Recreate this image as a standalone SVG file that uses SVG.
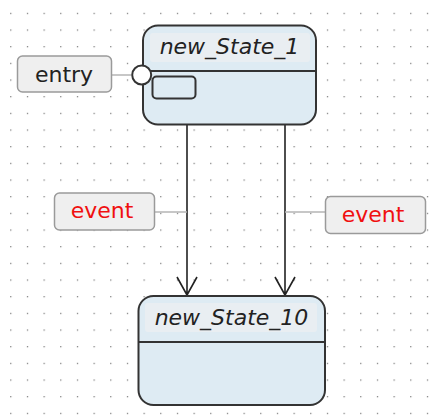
<svg xmlns="http://www.w3.org/2000/svg" width="441" height="420" viewBox="0 0 441 420">
<style>
.state{fill:#deebf3;stroke:#333;stroke-width:2}
.title{fill:#e9eef2}
.tt{font-family:"DejaVu Sans",sans-serif;font-style:italic;font-size:22px;fill:#222}
.lbl{fill:#efefef;stroke:#9a9a9a;stroke-width:1.5}
.lt{font-family:"DejaVu Sans",sans-serif;font-size:22px}
.conn{stroke:#222;stroke-width:1.6;fill:none}
.lead{stroke:#b5b5b5;stroke-width:1.5;fill:none}
</style>
<defs>
<pattern id="grid" patternUnits="userSpaceOnUse" x="10.2" y="12.8" width="16.6667" height="16.6667">
<rect x="0" y="0" width="1.2" height="1.2" fill="#6e6e6e"/>
</pattern>
</defs>
<rect width="441" height="420" fill="#fff"/>
<rect width="441" height="420" fill="url(#grid)"/>
<g id="connectors">
<path class="lead" d="M111.5 75H131"/>
<path class="conn" d="M187 125V295M177 277L187 295L197 277"/>
<path class="conn" d="M285 125V295M275 277L285 295L295 277"/>
<path class="lead" d="M154.5 212H187"/>
<path class="lead" d="M285 212H325.5"/>
</g>
<g id="new_State_1">
<rect class="state" x="143" y="25.5" width="173" height="99" rx="15"/>
<rect class="title" x="150" y="33" width="160" height="29" rx="3"/>
<line x1="143" y1="71" x2="316" y2="71" stroke="#333" stroke-width="2"/>
<rect x="152.5" y="76.5" width="43" height="22" rx="4" fill="none" stroke="#333" stroke-width="2"/>
<text class="tt" x="229.5" y="54" text-anchor="middle">new_State_1</text>
</g>
<g id="entry_point">
<circle cx="141.7" cy="75" r="9.5" fill="#fff" stroke="#333" stroke-width="2"/>
</g>
<g id="entry">
<rect class="lbl" x="17.5" y="56" width="94" height="36" rx="5"/>
<text class="lt" x="64" y="81.5" text-anchor="middle" fill="#222">entry</text>
</g>
<g id="event_left">
<rect class="lbl" x="54.5" y="193" width="100" height="37" rx="5"/>
<text class="lt" x="102" y="218" text-anchor="middle" fill="#f01010">event</text>
</g>
<g id="event_right">
<rect class="lbl" x="325.5" y="196.5" width="100" height="37" rx="5"/>
<text class="lt" x="373" y="221.5" text-anchor="middle" fill="#f01010">event</text>
</g>
<g id="new_State_10">
<rect class="state" x="138.5" y="296" width="186.5" height="109" rx="15"/>
<rect class="title" x="145" y="303" width="172" height="29" rx="3"/>
<line x1="138.5" y1="342" x2="325" y2="342" stroke="#333" stroke-width="2"/>
<text class="tt" x="231.5" y="325" text-anchor="middle">new_State_10</text>
</g>
</svg>
